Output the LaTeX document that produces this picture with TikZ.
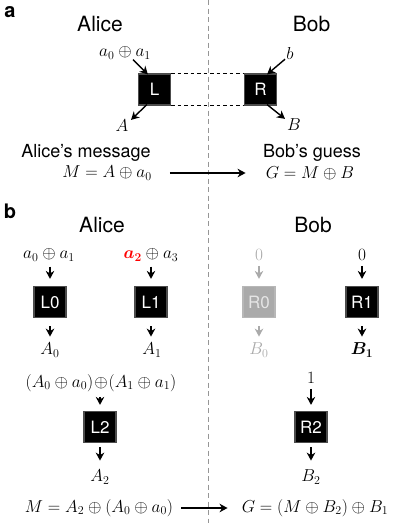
\documentclass[tikz,border=0pt]{standalone}
\usepackage{amsmath}
\usepackage[no-math]{fontspec}
\setmainfont{TeX Gyre Heros}
\usetikzlibrary{arrows.meta}
\definecolor{lightg}{RGB}{170,170,170}
\definecolor{divg}{RGB}{150,150,150}
\tikzset{
  ttl/.style={font=\fontsize{21}{24}\selectfont, inner sep=1pt},
  txt/.style={font=\fontsize{18}{21}\selectfont, inner sep=1pt},
  mth/.style={font=\fontsize{17}{20}\selectfont, inner sep=1pt},
  plabel/.style={font=\fontsize{20}{22}\selectfont\bfseries, inner sep=1pt},
  blk/.style={fill=black, draw=black!70, line width=1.2pt, minimum width=32pt, minimum height=31pt, text=white, font=\fontsize{17}{20}\selectfont, inner sep=0pt},
  gblk/.style={blk, fill=lightg, draw=lightg!85, text=black!10},
  arr/.style={-{Stealth[length=8pt,width=8.5pt,inset=2.5pt]}, line width=1.4pt},
  garr/.style={arr, draw=lightg},
}
\begin{document}
\begin{tikzpicture}[x=1pt,y=-1pt]
\useasboundingbox (0,0) rectangle (415,523);
% divider
\coordinate (dtop) at (208,0);
\coordinate (dbot) at (208,523);
\draw[divg, line width=0.8pt, dash pattern=on 5pt off 3.5pt] (dtop) -- (dbot);

% ---------- panel a ----------
\node[plabel] (pa) at (10,12) {a};
\node[ttl] (aliceA) at (100,23.5) {Alice};
\node[ttl] (bobA) at (311.5,23.5) {Bob};
\node[blk] (L) at (154.5,89.5) {L};
\node[blk] (R) at (260.5,89.5) {R};
\draw[line width=1pt, dash pattern=on 3.5pt off 3pt] (L.north east) -- (R.north west);
\draw[line width=1pt, dash pattern=on 3.5pt off 3pt] (L.south east) -- (R.south west);
\node[mth] (ina) at (125,53) {$a_0\oplus a_1$};
\node[mth] (inb) at (290,53) {$b$};
\node[mth] (outA) at (122,126) {$A$};
\node[mth] (outB) at (294,125) {$B$};
\draw[arr] ([xshift=8pt,yshift=1pt]ina.south) -- ([xshift=10pt,yshift=-1pt]L.north west);
\draw[arr] ([xshift=-5pt,yshift=1pt]inb.south) -- ([xshift=-10pt,yshift=-1pt]R.north east);
\draw[arr] ([xshift=9pt,yshift=1pt]L.south west) -- ([xshift=9pt,yshift=-1pt]outA.north);
\draw[arr] ([xshift=-10pt,yshift=1pt]R.south east) -- ([xshift=-9pt,yshift=-1pt]outB.north);
\node[txt] (amsg) at (86,153) {Alice’s message};
\node[mth] (Meq) at (107,173) {$M=A\oplus a_0$};
\node[txt] (bgs) at (312,153) {Bob’s guess};
\node[mth] (Geq) at (310,173) {$G=M\oplus B$};
\draw[arr] ([xshift=17pt]Meq.east |- 0,173) -- ([xshift=-19pt]Geq.west |- 0,173);

% ---------- panel b ----------
\node[plabel] (pb) at (10,211) {b};
\node[ttl] (aliceB) at (102,225) {Alice};
\node[ttl] (bobB) at (313,225) {Bob};

\node[mth] (in0) at (49,255) {$a_0\oplus a_1$};
\node[mth] (in1) at (151,255) {${\color{red}\boldsymbol{a_2}}\oplus a_3$};
\node[mth, text=lightg] (inr0) at (259,255) {$0$};
\node[mth] (inr1) at (362,255) {$0$};

\node[blk] (L0) at (50,302) {L0};
\node[blk] (L1) at (151,302) {L1};
\node[gblk] (R0) at (259,302) {R0};
\node[blk] (R1) at (362,302) {R1};

\node[mth] (A0) at (50,350) {$A_0$};
\node[mth] (A1) at (152,350) {$A_1$};
\node[mth, text=lightg] (B0) at (259,350) {$B_0$};
\node[mth] (B1) at (362,350) {$\boldsymbol{B_1}$};

\draw[arr, shorten <=4pt, shorten >=7pt] (in0.south -| L0.north) -- (L0.north);
\draw[arr, shorten <=4pt, shorten >=7pt] (in1.south -| L1.north) -- (L1.north);
\draw[garr, shorten <=4pt, shorten >=7pt] (inr0.south -| R0.north) -- (R0.north);
\draw[arr, shorten <=4pt, shorten >=7pt] (inr1.south -| R1.north) -- (R1.north);
\draw[arr, shorten <=8pt, shorten >=5pt] (L0.south) -- (A0.north -| L0.south);
\draw[arr, shorten <=8pt, shorten >=5pt] (L1.south) -- (A1.north -| L1.south);
\draw[garr, shorten <=8pt, shorten >=5pt] (R0.south) -- (B0.north -| R0.south);
\draw[arr, shorten <=8pt, shorten >=5pt] (R1.south) -- (B1.north -| R1.south);

\node[mth] (sum) at (101,383) {$(A_0\oplus a_0)\!\oplus\!(A_1\oplus a_1)$};
\node[mth] (one) at (311,378) {$1$};
\node[blk] (L2) at (100,427) {L2};
\node[blk] (R2) at (311,427) {R2};
\node[mth] (A2) at (100,477) {$A_2$};
\node[mth] (B2) at (311,477) {$B_2$};
\draw[arr, shorten <=4pt, shorten >=6pt] (sum.south -| L2.north) -- (L2.north);
\draw[arr, shorten <=4pt, shorten >=6pt] (one.south -| R2.north) -- (R2.north);
\draw[arr, shorten <=4pt, shorten >=8pt] (L2.south) -- (A2.north -| L2.south);
\draw[arr, shorten <=4pt, shorten >=8pt] (R2.south) -- (B2.north -| R2.south);

\node[mth] (Mb) at (99,508) {$M=A_2\oplus(A_0\oplus a_0)$};
\node[mth] (Gb) at (315,508) {$G=(M\oplus B_2)\oplus B_1$};
\draw[arr] ([xshift=7pt]Mb.east |- 0,508) -- ([xshift=-13pt]Gb.west |- 0,508);
\end{tikzpicture}
\end{document}
